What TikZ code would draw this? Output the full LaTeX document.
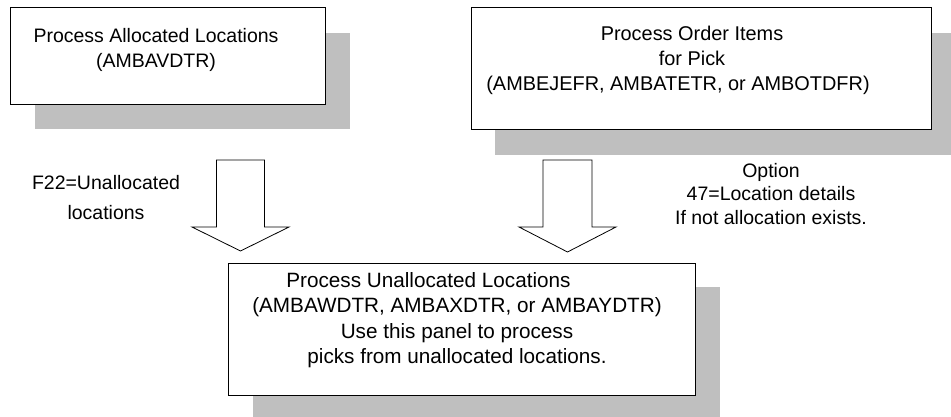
\documentclass[tikz,border=0pt]{standalone}
\usepackage{fontspec}
\setmainfont{Liberation Sans}
\begin{document}
\begin{tikzpicture}[x=1pt,y=-1pt,
  shadowbox/.style={fill=black!25,draw=none},
  panel/.style={draw=black,line width=1pt,fill=white,inner sep=0pt},
  txt/.style={align=center,inner sep=0pt,font=\fontsize{19.5}{25}\selectfont},
  blockarrow/.style={draw=black,line width=0.8pt,fill=white,line join=miter}
]
\useasboundingbox (0,0) rectangle (951,417);
% shadows
\fill[shadowbox] (35,33) rectangle (350,129);
\fill[shadowbox] (495,33) rectangle (960,155);
\fill[shadowbox] (253,287) rectangle (720,425);
% panels
\node[panel,minimum width=315pt,minimum height=97pt] (alloc) at (167.5,56.5) {};
\node[panel,minimum width=460pt,minimum height=122pt] (order) at (701,69) {};
\node[panel,minimum width=467pt,minimum height=132pt] (unalloc) at (461.5,329) {};
% texts
\node[txt] (allocT) at (156,50) {Process Allocated Locations\\(AMBAVDTR)};
\node[txt,font=\fontsize{19.9}{25}\selectfont] (orderT) at (678,60) {\hspace*{28pt}Process Order Items\\\hspace*{28pt}for Pick\\(AMBEJEFR, AMBATETR, or AMBOTDFR)};
\node[txt,font=\fontsize{20.7}{25.5}\selectfont] (unallocT) at (457,320) {Process Unallocated Locations\hspace*{57pt}\\(AMBAWDTR, AMBAXDTR, or AMBAYDTR)\\Use this panel to process\\picks from unallocated locations.};
\node[txt,font=\fontsize{19.5}{30}\selectfont] (f22) at (106,198) {F22=Unallocated\\locations};
\node[txt,font=\fontsize{19.5}{23.5}\selectfont] (opt) at (771,194) {Option\\47=Location details\\If not allocation exists.};
% block arrows
\coordinate (la) at (241,160);
\coordinate (ra) at (568,160);
\draw[blockarrow] (la) ++(-24.5,0) -- ++(0,67) -- ++(-24.5,0) -- ++(48.5,24) -- ++(48.5,-24) -- ++(-24.5,0) -- ++(0,-67) -- cycle;
\draw[blockarrow] (ra) ++(-25,0) -- ++(0,67) -- ++(-24,0) -- ++(48.5,25) -- ++(48.5,-25) -- ++(-24,0) -- ++(0,-67) -- cycle;
\end{tikzpicture}
\end{document}
